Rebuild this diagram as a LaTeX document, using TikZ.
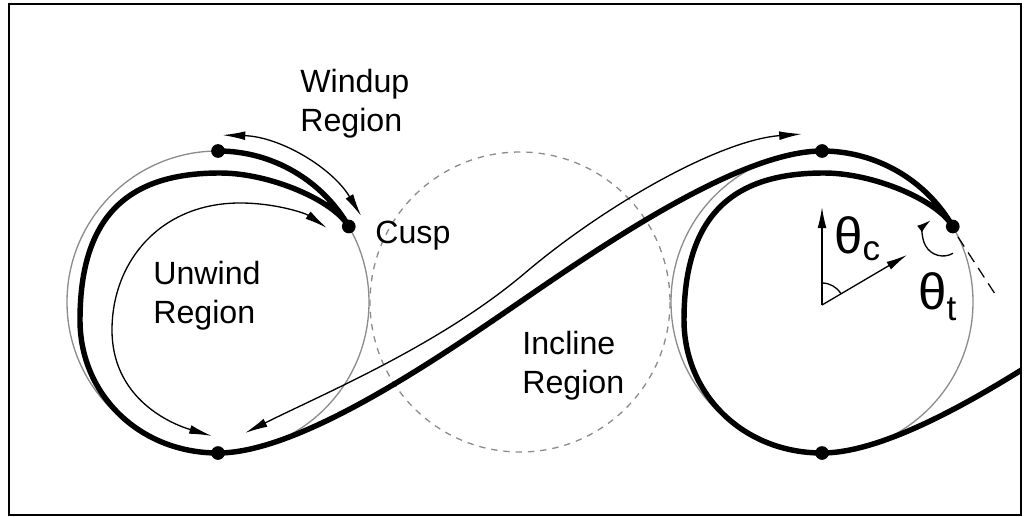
\documentclass[tikz,border=0pt]{standalone}
\usepackage{fontspec}
\setmainfont{Liberation Sans}
\usetikzlibrary{arrows.meta}
\begin{document}
\begin{tikzpicture}[x=0.02cm,y=-0.02cm,
  thickcurve/.style={line width=3.1pt, line join=round},
  guide/.style={draw=black!45, line width=0.75pt},
  incl/.style={draw=black!45, line width=0.75pt, dash pattern=on 3.6pt off 3.4pt},
  thinarrow/.style={line width=0.75pt, {Latex[length=13pt,width=5pt]}-{Latex[length=13pt,width=5pt]}},
  onearrow/.style={line width=0.75pt, -{Latex[length=12pt,width=5pt]}},
  dot/.style={circle, fill=black, inner sep=0pt, minimum size=7.8pt},
  lbl/.style={anchor=north west, inner sep=0pt, align=left, font=\fontsize{18.3}{22.2}\selectfont},
  greek/.style={anchor=base west, inner sep=0pt, font=\fontsize{29}{29}\selectfont},
]
\useasboundingbox (0,0) rectangle (1024,517);
% key points
\coordinate (LC) at (218,302);
\coordinate (MC) at (520,302);
\coordinate (RC) at (822,302);
\coordinate (T1) at (218,151);
\coordinate (C1) at (348.77,226.5);
\coordinate (B1) at (218,453);
\coordinate (T2) at (822,151);
\coordinate (C2) at (952.77,226.5);
\coordinate (B2) at (822,453);
% guide circles
\draw[guide] (LC) circle[radius=151];
\draw[guide] (RC) circle[radius=151];
\draw[incl] (MC) circle[radius=150];
% thin arrows
\coordinate (wu1) at (222.4,135.1);
\draw[thinarrow] (wu1) arc[start angle=-88.5, end angle=-31, radius=167];
\coordinate (uw1) at (212,436);
\coordinate (uw2) at (327,228);
\draw[thinarrow] (uw1) .. controls (165,422) and (112,395) .. (112,330)
  .. controls (112,262) and (160,203) .. (240,203)
  .. controls (275,203) and (305,213) .. (uw2);
\coordinate (in1) at (245,433);
\coordinate (in2) at (802,134);
\draw[thinarrow] (in1) .. controls (325,393) and (440,345) .. (525,273)
  .. controls (605,205) and (720,140) .. (in2);
% thick curve
\begin{scope}
\clip (9,4) rectangle (1021,515);
\draw[thickcurve] (T1) arc[start angle=-90, end angle=-30, radius=151]
  .. controls (333.8,200.5) and (270,173) .. (220,173)
  .. controls (132,173) and (80,212) .. (80,320)
  .. controls (80,395) and (140,453) .. (B1)
  .. controls (300,453) and (437,359) .. (MC)
  .. controls (603,245) and (740,151) .. (T2)
  arc[start angle=-90, end angle=-30, radius=151]
  .. controls (937.8,200.5) and (874,173) .. (824,173)
  .. controls (736,173) and (684,212) .. (684,320)
  .. controls (684,395) and (744,453) .. (B2)
  .. controls (904,453) and (1041,359) .. (1124,302);
\end{scope}
% dots
\foreach \p in {T1,C1,B1,T2,C2,B2} \node[dot] (d\p) at (\p) {};
% angle construction
\coordinate (O) at (822,305);
\coordinate (Ou) at (822,207);
\coordinate (Od) at (907,255);
\draw[onearrow] (O) -- (Ou);
\draw[onearrow] (O) -- (Od);
\draw[line width=0.75pt] (822,283) arc[start angle=-90, end angle=-30.5, radius=22];
\coordinate (ta) at (953,253.3);
\draw[line width=0.75pt, -{Latex[length=8pt,width=4.5pt]}] (ta) arc[start angle=60, end angle=232, radius=20];
\coordinate (tg1) at (958,237);
\coordinate (tg2) at (997,297);
\draw[line width=0.7pt, dash pattern=on 6.5pt off 4pt] (tg1) -- (tg2);
% labels
\node[lbl] (windup) at (300,69) {Windup\\Region};
\node[lbl] (cusp) at (375,221) {Cusp};
\node[lbl] (unwind) at (153,261) {Unwind\\Region};
\node[lbl] (incline) at (522,331) {Incline\\Region};
\node[greek] (thc) at (834,253) {θ\raisebox{-4pt}{\fontsize{20}{20}\selectfont c}};
\node[greek] (tht) at (918,309) {θ\raisebox{-6.3pt}{\fontsize{20}{20}\selectfont t}};
% frame
\draw[line width=1pt] (9,4) rectangle (1021,515);
\end{tikzpicture}
\end{document}
